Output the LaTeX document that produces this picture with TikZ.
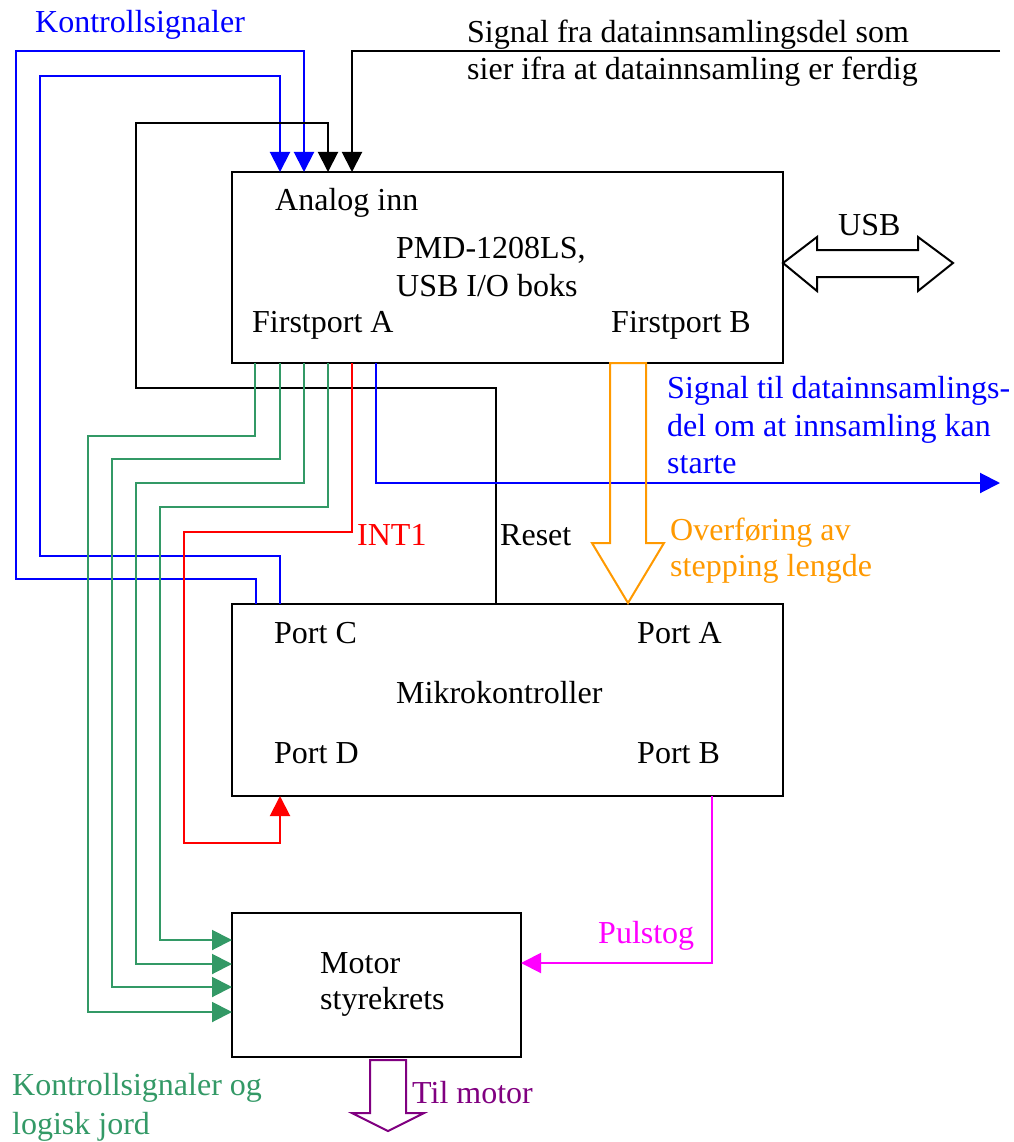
\documentclass[tikz,border=0pt]{standalone}
\usepackage{fontspec}
\setmainfont{Liberation Serif}
\usetikzlibrary{arrows.meta,calc}
\definecolor{kblue}{RGB}{0,0,255}
\definecolor{kgreen}{RGB}{51,153,102}
\definecolor{korange}{RGB}{255,153,0}
\definecolor{kmag}{RGB}{255,0,255}
\definecolor{kpurple}{RGB}{128,0,128}
\definecolor{kred}{RGB}{255,0,0}
\begin{document}
\begin{tikzpicture}[x=1pt,y=-1pt,
  box/.style={draw,line width=2.2pt,inner sep=0pt,outer sep=0pt,rectangle},
  wire/.style={line width=2pt},
  tip/.style={-{Triangle[length=20pt,width=20pt]}},
  blockarrow/.style={line width=2pt,line join=miter},
  lbl/.style={anchor=base west,inner sep=0pt,font=\fontsize{32}{37}\selectfont}]
\useasboundingbox (0,0) rectangle (1013,1142);

% boxes
\node[box,minimum width=551pt,minimum height=191pt] (pmd) at (507.5,267.5) {};
\node[box,minimum width=551pt,minimum height=192pt] (mcu) at (507.5,700) {};
\node[box,minimum width=289pt,minimum height=144pt] (motor) at (376.5,985) {};

\coordinate (sigin) at (1000,51);
\coordinate (sigout) at (1000,483);

% blue control signals (Port C -> analog inn)
\draw[wire,kblue,tip] ($(mcu.north west)+(24,0)$) -- ++(0,-25) -| (16,51) -| ($(pmd.north west)+(72,0)$);
\draw[wire,kblue,tip] ($(mcu.north west)+(48,0)$) -- ++(0,-48) -| (40,76) -| ($(pmd.north west)+(48,0)$);
% black reset
\draw[wire,tip] ($(mcu.north west)+(264,0)$) |- (136,388) -- (136,123) -| ($(pmd.north west)+(96,0)$);
% black signal from data acquisition
\draw[wire,tip] (sigin) -| ($(pmd.north west)+(120,0)$);

% green lines to motor driver
\draw[wire,kgreen,tip] ($(pmd.south west)+(23,0)$) |- (88,436) |- ($(motor.north west)+(0,99)$);
\draw[wire,kgreen,tip] ($(pmd.south west)+(48,0)$) |- (112,459) |- ($(motor.north west)+(0,74)$);
\draw[wire,kgreen,tip] ($(pmd.south west)+(72,0)$) |- (136,483) |- ($(motor.north west)+(0,51)$);
\draw[wire,kgreen,tip] ($(pmd.south west)+(96,0)$) |- (160,507) |- ($(motor.north west)+(0,27)$);

% red INT1
\draw[wire,kred,tip] ($(pmd.south west)+(120,0)$) |- (184,532) |- (280,843) -- ($(mcu.south west)+(48,0)$);

% blue signal out
\draw[wire,kblue,tip] ($(pmd.south west)+(144,0)$) |- (sigout);

% magenta pulse train
\draw[wire,kmag,tip] ($(mcu.south west)+(480,0)$) |- ($(motor.north east)+(0,50)$);

% orange block arrow
\draw[blockarrow,korange] (610,363) -- (646,363) -- (646,543) -- (664,543) -- (628,603) -- (592,543) -- (610,543) -- cycle;
% purple block arrow
\draw[blockarrow,kpurple] (370,1060) -- (406,1060) -- (406,1113) -- (424,1113) -- (388,1131) -- (352,1113) -- (370,1113) -- cycle;
% USB double arrow
\draw[blockarrow] (783,263) -- (817,237) -- (817,250) -- (918,250) -- (918,237) -- (953,263) -- (918,291) -- (918,277) -- (817,277) -- (817,291) -- cycle;

% labels
\node[lbl,kblue] (t1) at (35,33) {Kontrollsignaler};
\node[lbl] (t2) at (467,43) {Signal fra datainnsamlingsdel som};
\node[lbl] (t3) at (467,80) {sier ifra at datainnsamling er ferdig};
\node[lbl] (t4) at (275,211) {Analog inn};
\node[lbl] (t5) at (396,258) {PMD-1208LS,};
\node[lbl] (t6) at (396,296) {USB I/O boks};
\node[lbl] (t7) at (252,332) {Firstport A};
\node[lbl] (t8) at (611,332) {Firstport B};
\node[lbl] (t9) at (838,235) {USB};
\node[lbl,kblue] (t10) at (667,398) {Signal til datainnsamlings-};
\node[lbl,kblue] (t11) at (667,436) {del om at innsamling kan};
\node[lbl,kblue] (t12) at (667,473) {starte};
\node[lbl,kred] (t13) at (357,545) {INT1};
\node[lbl] (t14) at (500,545) {Reset};
\node[lbl,korange] (t15) at (670,540) {Overføring av};
\node[lbl,korange] (t16) at (670,576) {stepping lengde};
\node[lbl] (t17) at (274,643) {Port C};
\node[lbl] (t18) at (637,643) {Port A};
\node[lbl] (t19) at (396,703) {Mikrokontroller};
\node[lbl] (t20) at (274,763) {Port D};
\node[lbl] (t21) at (637,763) {Port B};
\node[lbl,kmag] (t22) at (598,943) {Pulstog};
\node[lbl] (t23) at (320,973) {Motor};
\node[lbl] (t24) at (320,1009) {styrekrets};
\node[lbl,kgreen] (t25) at (12,1095) {Kontrollsignaler og};
\node[lbl,kgreen] (t26) at (12,1134) {logisk jord};
\node[lbl,kpurple] (t27) at (412,1103) {Til motor};
\end{tikzpicture}
\end{document}
